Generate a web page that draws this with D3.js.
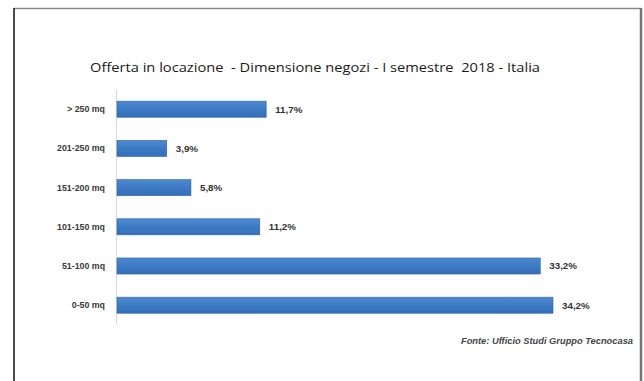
<!DOCTYPE html>
<html>
<head>
<meta charset="utf-8">
<script src="https://cdn.jsdelivr.net/npm/d3@7"></script>
<style>
  html, body { margin: 0; padding: 0; background: #fff; }
  svg { display: block; }
</style>
</head>
<body>
<svg id="chart" width="644" height="381"></svg>
<script>
// Offerta in locazione per dimensione dei negozi (I semestre 2018)
const categories = [">250 mq", "201-250 mq", "151-200 mq", "101-150 mq", "51-100 mq", "0-50 mq"];
const categoryLabels = ["> 250 mq", "201-250 mq", "151-200 mq", "101-150 mq", "51-100 mq", "0-50 mq"];
const shares = [11.7, 3.9, 5.8, 11.2, 33.2, 34.2];
const shareLabels = ["11,7%", "3,9%", "5,8%", "11,2%", "33,2%", "34,2%"];
const titleText = "Offerta in locazione  - Dimensione negozi - I semestre  2018 - Italia";
const sourceText = "Fonte: Ufficio Studi Gruppo Tecnocasa";

const svg = d3.select("#chart");

// frame around the figure
svg.append("line").attr("x1", 14).attr("x2", 641).attr("y1", 8.5).attr("y2", 8.5)
  .attr("stroke", "#8a8a8a").attr("stroke-width", 1.5);
svg.append("line").attr("x1", 14).attr("x2", 14).attr("y1", 8).attr("y2", 381)
  .attr("stroke", "#111").attr("stroke-width", 1.5);
svg.append("line").attr("x1", 641).attr("x2", 641).attr("y1", 8).attr("y2", 381)
  .attr("stroke", "#777").attr("stroke-width", 2.5);

const x = d3.scaleLinear().domain([0, 34.2]).range([117, 553]);
const y = d3.scaleBand().domain(categories).range([89.6, 324.8])
  .paddingInner(0.59).paddingOuter(0.295);

const defs = svg.append("defs");
const grad = defs.append("linearGradient").attr("id", "barGrad")
  .attr("x1", 0).attr("x2", 0).attr("y1", 0).attr("y2", 1);
grad.append("stop").attr("offset", "0%").attr("stop-color", "#4d8ad0");
grad.append("stop").attr("offset", "50%").attr("stop-color", "#3d7ac4");
grad.append("stop").attr("offset", "100%").attr("stop-color", "#3470b8");

// title
svg.append("text")
  .attr("x", 90).attr("y", 72)
  .attr("font-family", "'Open Sans', 'Liberation Sans', sans-serif")
  .attr("font-size", 13.2)
  .attr("fill", "#1a1a1a")
  .attr("textLength", 450)
  .attr("lengthAdjust", "spacingAndGlyphs")
  .style("white-space", "pre")
  .text(titleText);

// vertical category axis
svg.append("line")
  .attr("x1", x(0) - 0.5).attr("x2", x(0) - 0.5)
  .attr("y1", y.range()[0]).attr("y2", y.range()[1])
  .attr("stroke", "#d8d8d8").attr("stroke-width", 1);

const rows = categories.map((c, i) => ({ c, label: categoryLabels[i], v: shares[i], t: shareLabels[i] }));

svg.append("g").selectAll("rect").data(rows).join("rect")
  .attr("x", x(0))
  .attr("y", d => y(d.c))
  .attr("width", d => x(d.v) - x(0))
  .attr("height", y.bandwidth())
  .attr("fill", "url(#barGrad)")
  .attr("stroke", "#2e64a6").attr("stroke-width", 0.6);

svg.append("g").selectAll("text").data(rows).join("text")
  .attr("x", 105)
  .attr("y", d => y(d.c) + y.bandwidth() / 2)
  .attr("dy", "0.35em")
  .attr("text-anchor", "end")
  .attr("font-family", "'Liberation Sans', Arial, sans-serif")
  .attr("font-size", 8.8)
  .attr("font-weight", "bold")
  .attr("fill", "#3a3a3a")
  .text(d => d.label);

svg.append("g").selectAll("text").data(rows).join("text")
  .attr("x", d => x(d.v) + 9)
  .attr("y", d => y(d.c) + y.bandwidth() / 2)
  .attr("dy", "0.35em")
  .attr("font-family", "'Liberation Sans', Arial, sans-serif")
  .attr("font-size", 9.8)
  .attr("font-weight", "bold")
  .attr("fill", "#333")
  .text(d => d.t);

// source note
svg.append("text")
  .attr("x", 633).attr("y", 344)
  .attr("text-anchor", "end")
  .attr("font-family", "'Liberation Sans', Arial, sans-serif")
  .attr("font-size", 9.3)
  .attr("font-style", "italic")
  .attr("font-weight", "bold")
  .attr("fill", "#444")
  .text(sourceText);
</script>
</body>
</html>
